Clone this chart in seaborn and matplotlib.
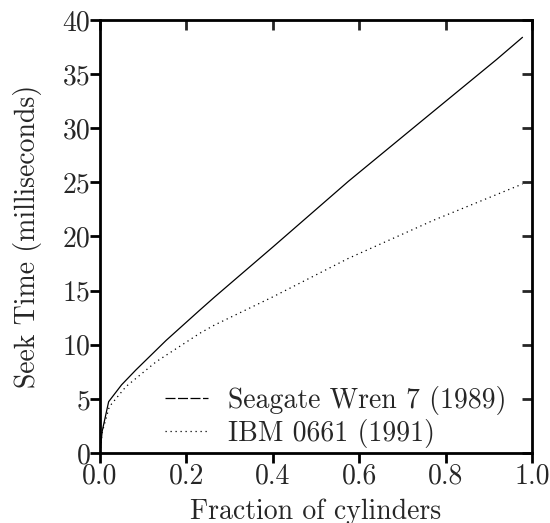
import matplotlib
matplotlib.use("Agg")
import matplotlib.pyplot as plt
from matplotlib.lines import Line2D
import seaborn as sns
import pandas as pd

# values
seagate_x = [0.0, 0.005, 0.02, 0.05, 0.083, 0.153, 0.231, 0.265, 0.401, 0.575, 0.741, 0.918, 0.978]
seagate_y = [0.0, 2.0, 4.74, 6.3, 7.67, 10.4, 13.2, 14.4, 19.06, 25.1, 30.55, 36.35, 38.4]

ibm_x = [0.0, 0.005, 0.0216, 0.06, 0.13, 0.231, 0.265, 0.401, 0.575, 0.772, 0.978]
ibm_y = [0.0, 1.9, 4.28, 6.13, 8.43, 11.06, 11.82, 14.44, 17.98, 21.5, 24.85]

labels = ["Seagate Wren 7 (1989)", "IBM 0661 (1991)"]
x_ticks = [0.0, 0.2, 0.4, 0.6, 0.8, 1.0]
y_ticks = list(range(0, 41, 5))

sns.set_style("ticks")
plt.rcParams["font.family"] = ["cmr10", "DejaVu Serif"]
plt.rcParams["axes.formatter.use_mathtext"] = True

FS = 20

seagate = pd.DataFrame({"frac": seagate_x, "seek": seagate_y})
ibm = pd.DataFrame({"frac": ibm_x, "seek": ibm_y})

fig = plt.figure(figsize=(5.5, 5.23), dpi=100)
ax = fig.add_axes([100 / 550, 1 - 453 / 523, 432 / 550, 433 / 523])

sns.lineplot(data=seagate, x="frac", y="seek", ax=ax, color="black",
             lw=0.9, sort=False, estimator=None)
sns.lineplot(data=ibm, x="frac", y="seek", ax=ax, color="black",
             lw=0.9, linestyle=(0, (1, 3)), sort=False, estimator=None)

ax.set_xlim(0, 1)
ax.set_ylim(0, 40)
ax.set_xticks(x_ticks)
ax.set_yticks(y_ticks)
ax.set_xticklabels([f"{t:.1f}" for t in x_ticks])
ax.set_yticklabels([str(t) for t in y_ticks])
ax.set_xlabel("Fraction of cylinders", fontsize=FS)
ax.set_ylabel("Seek Time (milliseconds)", fontsize=FS)
ax.xaxis.set_label_coords(0.5, -0.104)
ax.yaxis.set_label_coords(-0.134, 0.5)
ax.tick_params(direction="out", length=7, width=2, labelsize=FS, pad=0, color="black")

for s in ax.spines.values():
    s.set_linewidth(2)
    s.set_color("black")

# top / right ticks point inward
top = ax.secondary_xaxis("top")
top.set_xticks(x_ticks)
top.tick_params(direction="in", length=7, width=2, labeltop=False)
right = ax.secondary_yaxis("right")
right.set_yticks(y_ticks)
right.tick_params(direction="in", length=7, width=2, labelright=False)

handles = [
    Line2D([], [], color="black", lw=0.9, linestyle=(0, (8, 2))),
    Line2D([], [], color="black", lw=0.9, linestyle=(0, (1, 3))),
]
ax.legend(handles, labels, loc="lower left", bbox_to_anchor=(0.1, -0.04),
          frameon=False, fontsize=FS, handlelength=1.55, handletextpad=0.72,
          labelspacing=0.15, borderpad=0.3)

fig.savefig("out.png", dpi=100)
